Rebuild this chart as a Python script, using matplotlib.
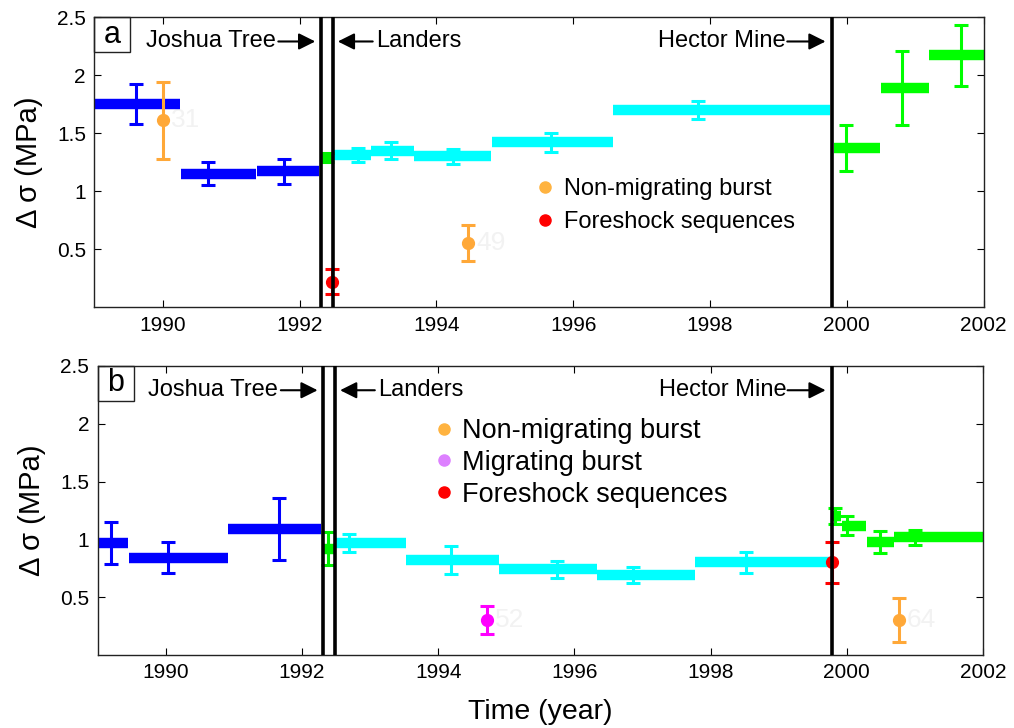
import numpy as np
import matplotlib.pyplot as plt
from matplotlib.lines import Line2D
from matplotlib.patches import Rectangle

plt.rcParams['font.family'] = ['Liberation Sans', 'DejaVu Sans']

# event times (decimal year)
joshua_tree = 1992.31
landers = 1992.49
hector_mine = 1999.79

# panel a: windows (start, end), stress drop, error, time of error bar, group
a_start = [1989.0, 1990.27, 1991.38, 1992.31, 1992.49, 1993.05, 1993.68, 1994.82, 1996.58, 1999.81, 2000.50, 2001.20]
a_end = [1990.25, 1991.37, 1992.28, 1992.48, 1993.05, 1993.68, 1994.80, 1996.58, 1999.75, 2000.49, 2001.20, 2002.0]
a_val = [1.75, 1.15, 1.17, 1.29, 1.31, 1.35, 1.30, 1.42, 1.70, 1.37, 1.89, 2.17]
a_err = [0.17, 0.10, 0.105, 0.04, 0.06, 0.075, 0.065, 0.08, 0.08, 0.20, 0.32, 0.26]
a_mid = [1989.61, 1990.66, 1991.78, 1992.40, 1992.85, 1993.34, 1994.25, 1995.68, 1997.82, 1999.99, 2000.81, 2001.67]
a_group = ['pre', 'pre', 'pre', 'jt', 'post', 'post', 'post', 'post', 'post', 'hm', 'hm', 'hm']

# panel a: bursts / foreshocks
a_ev_t = [1990.0, 1994.46, 1992.48]
a_ev_val = [1.61, 0.55, 0.22]
a_ev_err = [0.33, 0.155, 0.11]
a_ev_kind = ['non', 'non', 'fore']
a_ev_id = ['31', '49', '']

# panel b
b_start = [1989.0, 1989.46, 1990.92, 1992.31, 1992.49, 1993.53, 1994.89, 1996.33, 1997.77, 1999.79, 1999.93, 2000.29, 2000.70]
b_end = [1989.45, 1990.92, 1992.28, 1992.48, 1993.53, 1994.89, 1996.33, 1997.77, 1999.77, 1999.92, 2000.28, 2000.70, 2002.0]
b_val = [0.97, 0.84, 1.09, 0.92, 0.97, 0.82, 0.74, 0.69, 0.80, 1.20, 1.12, 0.98, 1.02]
b_err = [0.18, 0.135, 0.265, 0.14, 0.075, 0.12, 0.07, 0.07, 0.09, 0.07, 0.085, 0.095, 0.065]
b_mid = [1989.20, 1990.03, 1991.67, 1992.38, 1992.69, 1994.19, 1995.74, 1996.86, 1998.52, 1999.82, 2000.0, 2000.49, 2001.0]
b_group = ['pre', 'pre', 'pre', 'jt', 'post', 'post', 'post', 'post', 'post', 'hm', 'hm', 'hm', 'hm']

b_ev_t = [1994.71, 2000.76, 1999.79]
b_ev_val = [0.30, 0.30, 0.80]
b_ev_err = [0.12, 0.19, 0.18]
b_ev_kind = ['mig', 'non', 'fore']
b_ev_id = ['52', '64', '']

group_color = {'pre': '#0000ff', 'jt': '#00ee00', 'post': '#00ffff', 'hm': '#00ff00'}
kind_color = {'non': '#ffa838', 'mig': '#ff00ff', 'fore': '#ff0000'}
legend_color = {'non': '#ffb340', 'mig': '#dd80ff', 'fore': '#ff0000'}
kind_label = {'non': 'Non-migrating burst', 'mig': 'Migrating burst', 'fore': 'Foreshock sequences'}

fig = plt.figure(figsize=(10.14, 7.28), dpi=100)
ax_a = fig.add_axes([0.093, 0.578, 0.877, 0.3985])
ax_b = fig.add_axes([0.0963, 0.1003, 0.8731, 0.397])


def draw_panel(ax, start, end, val, err, mid, group, ev_t, ev_val, ev_err, ev_kind, ev_id):
    for i in range(len(start)):
        c = group_color[group[i]]
        ax.hlines(val[i], start[i], end[i], color=c, lw=7.5, zorder=2)
        ax.errorbar(mid[i], val[i], yerr=err[i], fmt='o', ms=5, color=c,
                    elinewidth=2.2, capsize=5, capthick=2.2, zorder=3)
    for i in range(len(ev_t)):
        c = kind_color[ev_kind[i]]
        ax.errorbar(ev_t[i], ev_val[i], yerr=ev_err[i], fmt='o', ms=8.5, color=c,
                    elinewidth=2.2, capsize=5, capthick=2.2, zorder=4)
        if ev_id[i]:
            ax.text(ev_t[i] + 0.12, ev_val[i], ev_id[i], color='#f2f2f2',
                    fontsize=19, va='center', ha='left', zorder=1)
    for t in [joshua_tree, landers, hector_mine]:
        ax.axvline(t, color='black', lw=2.6, zorder=5)

    ax.set_xlim(1989, 2002)
    ax.set_ylim(0, 2.5)
    ax.set_xticks(np.arange(1990, 2003, 2))
    ax.set_yticks([0.5, 1, 1.5, 2, 2.5])
    ax.set_yticklabels(['0.5', '1', '1.5', '2', '2.5'])
    ax.tick_params(direction='in', top=True, right=True, length=5, width=0.8,
                   labelsize=15, pad=6)
    for s in ax.spines.values():
        s.set_linewidth(1.0)
        s.set_color('#222222')
    ax.set_ylabel(r'Δ σ (MPa)', fontsize=21, labelpad=10)

    # earthquake annotations
    ya = 2.29
    arrow = dict(arrowstyle='-|>,head_length=0.5,head_width=0.25', color='black', lw=1.5,
                 mutation_scale=20, shrinkA=0, shrinkB=0)
    ax.text(joshua_tree - 0.66, ya, 'Joshua Tree', fontsize=17, ha='right', va='center')
    ax.annotate('', xy=(joshua_tree - 0.08, ya), xytext=(joshua_tree - 0.62, ya), arrowprops=arrow)
    ax.annotate('', xy=(landers + 0.07, ya), xytext=(landers + 0.58, ya), arrowprops=arrow)
    ax.text(landers + 0.63, ya, 'Landers', fontsize=17, ha='left', va='center')
    ax.text(hector_mine - 0.68, ya, 'Hector Mine', fontsize=17, ha='right', va='center')
    ax.annotate('', xy=(hector_mine - 0.1, ya), xytext=(hector_mine - 0.66, ya), arrowprops=arrow)


draw_panel(ax_a, a_start, a_end, a_val, a_err, a_mid, a_group,
           a_ev_t, a_ev_val, a_ev_err, a_ev_kind, a_ev_id)
draw_panel(ax_b, b_start, b_end, b_val, b_err, b_mid, b_group,
           b_ev_t, b_ev_val, b_ev_err, b_ev_kind, b_ev_id)

# panel letters
for ax, letter in [(ax_a, 'a'), (ax_b, 'b')]:
    ax.add_patch(Rectangle((0, 0.879), 0.0405, 0.121, transform=ax.transAxes,
                           fill=False, edgecolor='#222222', lw=1.0, zorder=6, clip_on=False))
    ax.text(0.02025, 0.9395, letter, transform=ax.transAxes, fontsize=22,
            ha='center', va='center', zorder=7)


def kind_handles(kinds):
    return [Line2D([], [], ls='none', marker='o', ms=8, color=legend_color[k]) for k in kinds]


kinds_a = ['non', 'fore']
ax_a.legend(kind_handles(kinds_a), [kind_label[k] for k in kinds_a], loc='upper left',
            bbox_to_anchor=(0.5, 0.444), frameon=False, fontsize=17, borderpad=0,
            borderaxespad=0, handlelength=0.55, handletextpad=0.5, labelspacing=0.45)
kinds_b = ['non', 'mig', 'fore']
ax_b.legend(kind_handles(kinds_b), [kind_label[k] for k in kinds_b], loc='upper left',
            bbox_to_anchor=(0.384, 0.82), frameon=False, fontsize=19.5, borderpad=0,
            borderaxespad=0, handlelength=0.45, handletextpad=0.45, labelspacing=0.22)

ax_b.set_xlabel('Time (year)', fontsize=20.5, labelpad=12)

fig.savefig('out.png', dpi=100)
